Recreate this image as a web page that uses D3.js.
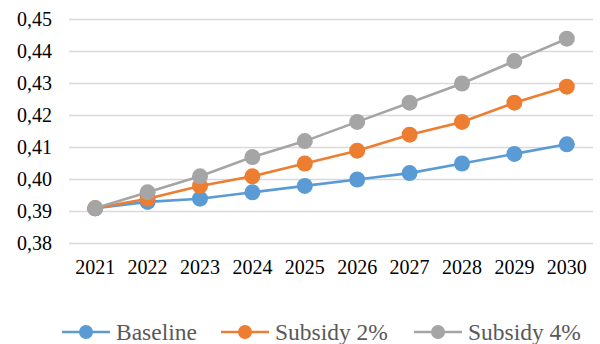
<!DOCTYPE html>
<html>
<head>
<meta charset="utf-8">
<script src="https://cdn.jsdelivr.net/npm/d3@7"></script>
<style>
  body { margin: 0; background: #fff; }
  svg text { font-family: "Liberation Serif", "Times New Roman", serif !important; }
</style>
</head>
<body>
<svg id="graphe" width="600" height="344"></svg>
<script>
// données
var annees = ["2021", "2022", "2023", "2024", "2025", "2026", "2027", "2028", "2029", "2030"];
var baseline = [0.391, 0.393, 0.394, 0.396, 0.398, 0.400, 0.402, 0.405, 0.408, 0.411];
var subsidy2 = [0.391, 0.394, 0.398, 0.401, 0.405, 0.409, 0.414, 0.418, 0.424, 0.429];
var subsidy4 = [0.391, 0.396, 0.401, 0.407, 0.412, 0.418, 0.424, 0.430, 0.437, 0.444];
var graduations = [0.38, 0.39, 0.40, 0.41, 0.42, 0.43, 0.44, 0.45];
var noms = ["Baseline", "Subsidy 2%", "Subsidy 4%"];
var couleurs = ["#5b9bd5", "#ed7d31", "#a5a5a5"];

var series = [baseline, subsidy2, subsidy4];
var marge = { top: 19.5, right: 7, bottom: 100.5, left: 69 },
	larg = 600 - marge.left - marge.right,
	haut = 344 - marge.top - marge.bottom;

var svg = d3.select("#graphe");
var g = svg.append("g").attr("transform", "translate(" + marge.left + "," + marge.top + ")");

var x = d3.scaleBand().domain(annees).range([0, larg]);
var y = d3.scaleLinear().domain([0.38, 0.45]).range([haut, 0]);
var virgule = d => d3.format(".2f")(d).replace(".", ",");

// grille horizontale
g.append("g")
	.selectAll("line")
	.data(graduations)
	.enter()
		.append("line")
		.attr("x1", 0)
		.attr("x2", larg)
		.attr("y1", d => y(d))
		.attr("y2", d => y(d))
		.attr("stroke", "#d9d9d9")
		.attr("stroke-width", 1.3);

// axe Y
var axeY = g.append("g")
	.call(d3.axisLeft(y).tickValues(graduations).tickFormat(virgule).tickSize(0).tickPadding(17));
axeY.select(".domain").remove();
axeY.selectAll("text").style("font-size", "20px").style("fill", "#000");

// axe X
var axeX = g.append("g").attr("transform", "translate(0," + haut + ")")
	.call(d3.axisBottom(x).tickSize(0).tickPadding(16));
axeX.select(".domain").remove();
axeX.selectAll("text").style("font-size", "20px").style("fill", "#000");

// courbes
var trace = d3.line().x((d, i) => x(annees[i]) + x.bandwidth() / 2).y(d => y(d));
series.forEach(function (s, k) {
	g.append("path")
		.datum(s)
		.attr("d", trace)
		.attr("fill", "none")
		.attr("stroke", couleurs[k])
		.attr("stroke-width", 2.6);
	g.append("g")
		.selectAll("circle")
		.data(s)
		.enter()
			.append("circle")
			.attr("cx", (d, i) => x(annees[i]) + x.bandwidth() / 2)
			.attr("cy", d => y(d))
			.attr("r", 8)
			.attr("fill", couleurs[k]);
});

// légende
var posLeg = [62, 221, 414];
var leg = svg.append("g").attr("transform", "translate(0,332)");
noms.forEach(function (n, k) {
	var e = leg.append("g").attr("transform", "translate(" + posLeg[k] + ",0)");
	e.append("line").attr("x1", 0).attr("x2", 48).attr("y1", 0).attr("y2", 0)
		.attr("stroke", couleurs[k]).attr("stroke-width", 2.6);
	e.append("circle").attr("cx", 24).attr("cy", 0).attr("r", 7).attr("fill", couleurs[k]);
	e.append("text").attr("x", 54).attr("y", 0).attr("dy", "0.33em")
		.style("font-size", "23.5px").style("fill", "#595959").text(n);
});
</script>
</body>
</html>
